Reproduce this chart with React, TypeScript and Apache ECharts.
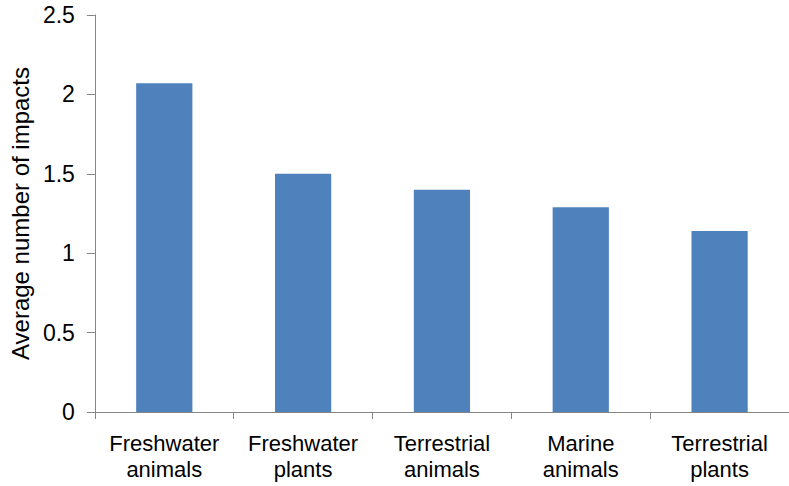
import React, { useEffect, useRef } from "react";
import * as echarts from "echarts";

const categories = [
  "Freshwater\nanimals",
  "Freshwater\nplants",
  "Terrestrial\nanimals",
  "Marine\nanimals",
  "Terrestrial\nplants",
];
const values = [2.07, 1.5, 1.4, 1.29, 1.14];
const yTitle = "Average number of impacts";

export default function App() {
  const ref = useRef<HTMLDivElement>(null);
  useEffect(() => {
    if (!ref.current) return;
    const chart = echarts.init(ref.current, undefined, { renderer: "svg" });
    const font = "Liberation Sans, Arial, sans-serif";
    chart.setOption({
      animation: false,
      backgroundColor: "#ffffff",
      grid: { left: 94, top: 15, width: 703, height: 397, containLabel: false },
      xAxis: {
        type: "category",
        data: categories,
        axisLine: { show: true, lineStyle: { color: "#868686", width: 1 } },
        axisTick: { show: true, length: 7, lineStyle: { color: "#868686" } },
        axisLabel: {
          color: "#000",
          fontFamily: font,
          fontSize: 22,
          lineHeight: 26,
          margin: 18,
          interval: 0,
        },
        splitLine: { show: false },
      },
      yAxis: {
        type: "value",
        min: 0,
        max: 2.5,
        interval: 0.5,
        name: yTitle,
        nameLocation: "middle",
        nameRotate: 90,
        nameGap: 55,
        nameTextStyle: { color: "#000", fontFamily: font, fontSize: 24 },
        axisLine: { show: true, lineStyle: { color: "#868686", width: 1 } },
        axisTick: { show: true, length: 8, lineStyle: { color: "#868686" } },
        axisLabel: { color: "#000", fontFamily: font, fontSize: 23, margin: 20 },
        splitLine: { show: false },
      },
      series: [
        {
          type: "bar",
          data: values,
          barCategoryGap: "59.5%",
          itemStyle: { color: "#4F81BD" },
        },
      ],
    });
    return () => chart.dispose();
  }, []);
  return (
    <div
      ref={ref}
      style={{ position: "absolute", left: 0, top: 0, width: 789, height: 486 }}
    />
  );
}
